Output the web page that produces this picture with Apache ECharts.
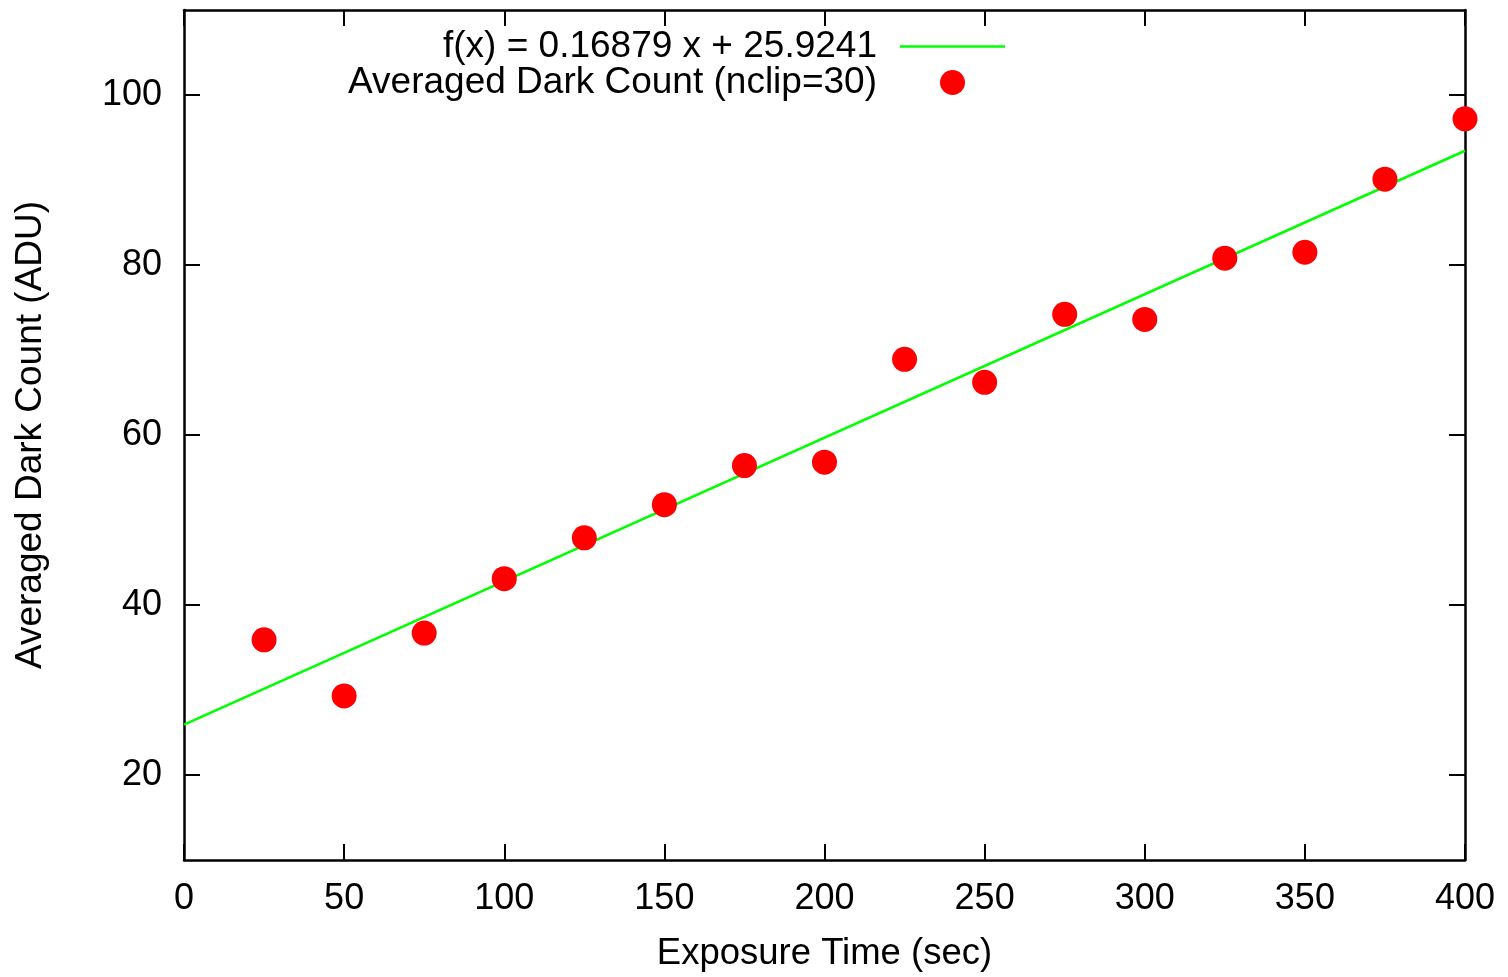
<!DOCTYPE html>
<html>
<head>
<meta charset="utf-8">
<script src="https://cdn.jsdelivr.net/npm/echarts@6/dist/echarts.min.js"></script>
<style>
html,body{margin:0;padding:0;background:#fff;}
#chart{width:1508px;height:977px;}
</style>
</head>
<body>
<div id="chart"></div>
<script>
// Data
const exposureTimes = [25, 50, 75, 100, 125, 150, 175, 200, 225, 250, 275, 300, 325, 350, 375, 400];
const darkCounts = [35.9, 29.3, 36.7, 43.1, 47.9, 51.8, 56.4, 56.8, 68.9, 66.2, 74.2, 73.6, 80.8, 81.5, 90.1, 97.2];
const fitX = [0, 400];
const fitY = [25.92, 93.44];
const xTicks = [0, 50, 100, 150, 200, 250, 300, 350, 400];
const yTicks = [20, 40, 60, 80, 100];
const fitName = 'f(x) = 0.16879 x + 25.9241';
const dataName = 'Averaged Dark Count (nclip=30)';
const xTitle = 'Exposure Time (sec)';
const yTitle = 'Averaged Dark Count (ADU)';

const FONT = "'Liberation Sans', Arial, sans-serif";
const chart = echarts.init(document.getElementById('chart'), null, {renderer: 'canvas'});

const axisLine = {show: true, onZero: false, lineStyle: {color: '#000', width: 2.5}};
const axisTick = {show: true, inside: true, length: 16, lineStyle: {color: '#000', width: 2}};

chart.setOption({
  animation: false,
  backgroundColor: '#fff',
  textStyle: {fontFamily: FONT},
  grid: {left: 184, right: 43, top: 10, bottom: 117, containLabel: false},
  legend: {
    orient: 'vertical',
    align: 'right',
    right: 498,
    top: 23,
    itemWidth: 105,
    itemHeight: 25,
    itemGap: -1,
    data: [
      {name: fitName, icon: 'path://M0,0H100V2.4H0Z'},
      {name: dataName}
    ],
    textStyle: {fontFamily: FONT, fontSize: 37, lineHeight: 30, color: '#000', padding: [0, 18, 0, 0]},
    selectedMode: false
  },
  xAxis: [{
    type: 'value', position: 'bottom', min: 0, max: 400, interval: 50,
    axisLine: axisLine, axisTick: Object.assign({customValues: xTicks}, axisTick),
    splitLine: {show: false},
    axisLabel: {customValues: xTicks, fontSize: 36, color: '#000', fontFamily: FONT, margin: 21},
    name: xTitle, nameLocation: 'middle', nameGap: 75,
    nameTextStyle: {fontSize: 36.5, color: '#000', fontFamily: FONT}
  }, {
    type: 'value', position: 'top', min: 0, max: 400, interval: 50,
    axisLine: axisLine, axisTick: Object.assign({customValues: xTicks}, axisTick),
    splitLine: {show: false}, axisLabel: {show: false}
  }],
  yAxis: [{
    type: 'value', position: 'left', min: 10, max: 110,
    axisLine: axisLine, axisTick: Object.assign({customValues: yTicks}, axisTick),
    splitLine: {show: false},
    axisLabel: {customValues: yTicks, fontSize: 36, color: '#000', fontFamily: FONT, margin: 22},
    name: yTitle, nameLocation: 'middle', nameGap: 135, nameRotate: 90,
    nameTextStyle: {fontSize: 37, color: '#000', fontFamily: FONT}
  }, {
    type: 'value', position: 'right', min: 10, max: 110,
    axisLine: axisLine, axisTick: Object.assign({customValues: yTicks}, axisTick),
    splitLine: {show: false}, axisLabel: {show: false}
  }],
  series: [{
    name: fitName,
    type: 'line',
    xAxisIndex: 0, yAxisIndex: 0,
    data: fitX.map((x, i) => [x, fitY[i]]),
    symbol: 'none',
    lineStyle: {color: '#00ff00', width: 2.5},
    itemStyle: {color: '#00ff00'},
    z: 2
  }, {
    name: dataName,
    type: 'scatter',
    xAxisIndex: 0, yAxisIndex: 0,
    data: exposureTimes.map((x, i) => [x, darkCounts[i]]),
    symbol: 'circle',
    symbolSize: 25,
    itemStyle: {color: '#ff0000', opacity: 1},
    z: 3
  }]
});
</script>
</body>
</html>
